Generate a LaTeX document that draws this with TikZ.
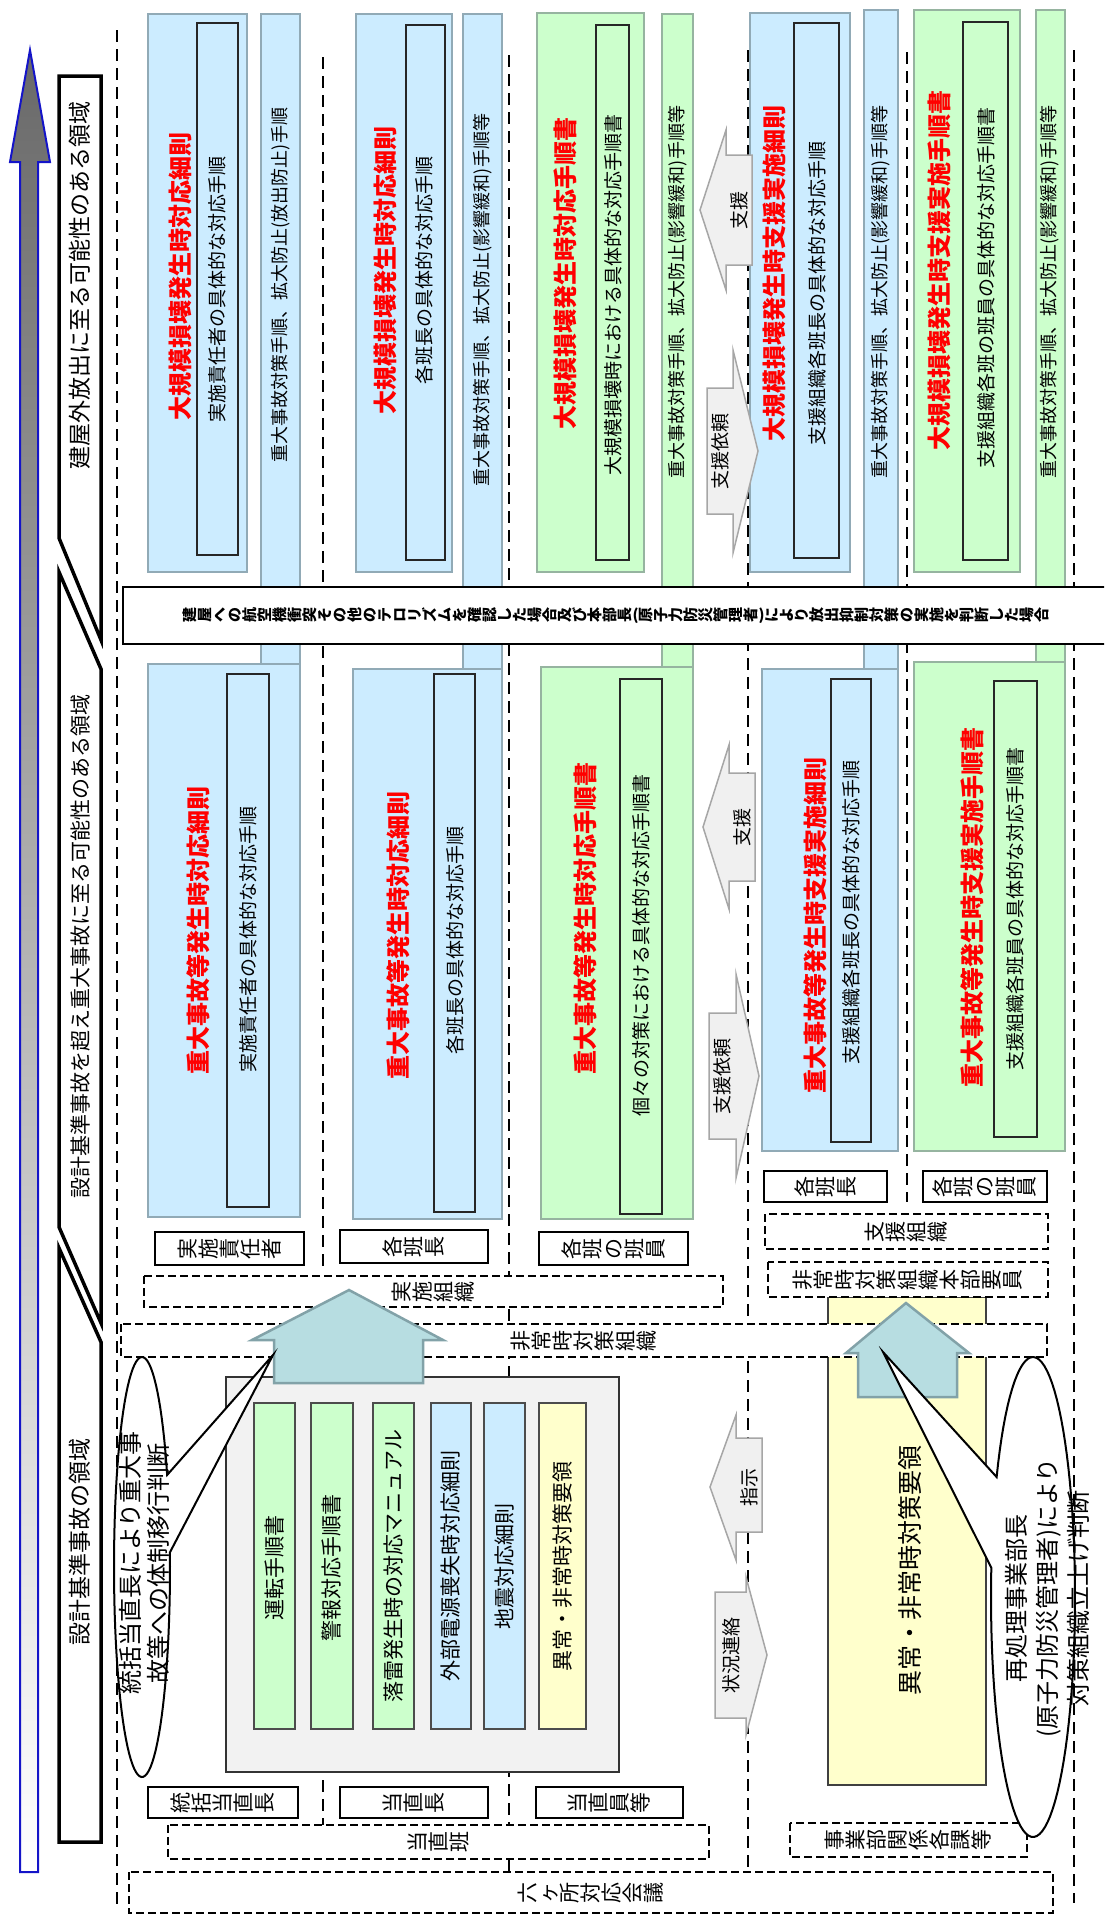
\documentclass[tikz,border=0pt]{standalone}
\usepackage{fontspec}
\setmainfont{Noto Sans CJK JP}
\usepackage{graphicx}
\usepackage{tikz}

\definecolor{sbblue}{RGB}{204,236,255}
\definecolor{sbgreen}{RGB}{204,255,204}
\definecolor{sbyellow}{RGB}{255,255,204}
\definecolor{sbedge}{RGB}{145,170,182}
\definecolor{sbedgeg}{RGB}{150,180,160}
\definecolor{sbteal}{RGB}{183,221,225}
\definecolor{sbtealedge}{RGB}{130,162,168}
\definecolor{sbgray}{RGB}{242,242,242}
\definecolor{sbarrow}{RGB}{105,105,105}
\definecolor{sbarrowedge}{RGB}{20,20,200}

\newcommand{\fsz}[1]{\fontsize{#1bp}{#1bp}\selectfont}
% 縦書き（1文字ずつ回転）
\newcommand{\tatechar}[1]{\rotatebox[origin=c]{90}{\hbox to 1em{\hss\vrule height .88em depth .12em width 0pt\relax#1\hss}}}
\makeatletter
\newcommand{\tate}[1]{\@tfor\tate@c:=#1\do{\tatechar{\tate@c}}}
\makeatother

\begin{document}
\begin{tikzpicture}[x=1bp,y=-1bp,
    bluebox/.style={fill=sbblue,draw=sbedge,line width=2.5bp},
    greenbox/.style={fill=sbgreen,draw=sbedgeg,line width=2.5bp},
    innerbox/.style={draw=black!85,line width=1.2bp},
    title/.style={rotate=90,text=red,font=\fsz{24}\bfseries,inner sep=0},
    body/.style={rotate=90,font=\fsz{19},inner sep=0},
    bartext/.style={rotate=90,font=\fsz{18},inner sep=0},
    regiontext/.style={rotate=90,font=\fsz{23},inner sep=0},
    region/.style={draw,fill=white,line width=3.5bp},
    sep/.style={dash pattern=on 12bp off 7bp,line width=2bp},
    labelbox/.style={draw,fill=white,line width=2bp},
    groupbox/.style={draw,fill=white,dash pattern=on 8bp off 4bp,line width=2bp},
    tatetext/.style={font=\fsz{21},inner sep=0},
    smallarrow/.style={draw=black!35,fill=black!6,line width=1.5bp},
    arrowtext/.style={rotate=90,font=\fsz{19},inner sep=0},
    bigarrow/.style={draw=sbtealedge,fill=sbteal,line width=2.5bp},
    procbar/.style={draw=black!70,line width=1.5bp},
    callout/.style={draw,fill=white,line width=2bp}]

    \useasboundingbox (0,0) rectangle (1104,1917);
    \clip (0,0) rectangle (1104,1917);

    % 事象進展の矢印
    \shadedraw[top color=sbarrow,bottom color=white,draw=sbarrowedge,line width=2bp]
        (20,1872) -- (20,162) -- (10,162) -- (30,50) -- (50,162) -- (38,162) -- (38,1872) -- cycle;

    % 領域
    \draw[region] (59,76) -- (101,76) -- (101,640) -- (59,538) -- cycle;
    \node[regiontext] (reg3) at (80,285) {建屋外放出に至る可能性のある領域};
    \draw[region] (59,572) -- (101,669) -- (101,1323) -- (59,1227) -- cycle;
    \node[regiontext,font=\fsz{21}] (reg2) at (80,946) {設計基準事故を超え重大事故に至る可能性のある領域};
    \draw[region] (59,1248) -- (101,1342) -- (101,1842) -- (59,1842) -- cycle;
    \node[regiontext] (reg1) at (80,1542) {設計基準事故の領域};

    % 区切り線
    \draw[sep] (117,30) -- (117,1907);
    \draw[sep] (323,57) -- (323,1268);
    \draw[sep] (323,1780) -- (323,1825);
    \draw[sep] (509,55) -- (509,1871);
    \draw[sep] (748,50) -- (748,1868);
    \draw[sep] (907,52) -- (907,1202);
    \draw[sep] (1074,50) -- (1074,1903);

    % 重大事故対策手順（縦長の帯）
    \draw[bluebox] (261,14) rectangle (300,700);
    \draw[bluebox] (463,14) rectangle (502,700);
    \draw[greenbox] (662,14) rectangle (693,700);
    \draw[bluebox] (864,10) rectangle (898,700);
    \draw[greenbox] (1036,10) rectangle (1065,700);
    \node[bartext] (bar1) at (281,285) {重大事故対策手順、拡大防止(放出防止)手順};
    \node[bartext] (bar2) at (483,300) {重大事故対策手順、拡大防止(影響緩和)手順等};
    \node[bartext] (bar3) at (678,292) {重大事故対策手順、拡大防止(影響緩和)手順等};
    \node[bartext] (bar4) at (881,292) {重大事故対策手順、拡大防止(影響緩和)手順等};
    \node[bartext] (bar5) at (1050,292) {重大事故対策手順、拡大防止(影響緩和)手順等};

    % 大規模損壊
    \draw[bluebox] (148,14) rectangle (247,572);
    \draw[innerbox] (197,23) rectangle (238,555);
    \node[title] (lsA) at (180,276) {大規模損壊発生時対応細則};
    \node[body] (lsAt) at (217,289) {実施責任者の具体的な対応手順};
    \draw[bluebox] (356,14) rectangle (452,572);
    \draw[innerbox] (406,25) rectangle (445,560);
    \node[title] (lsB) at (385,270) {大規模損壊発生時対応細則};
    \node[body] (lsBt) at (424,270) {各班長の具体的な対応手順};
    \draw[greenbox] (537,13) rectangle (644,572);
    \draw[innerbox] (596,25) rectangle (629,560);
    \node[title] (lsC) at (565,273) {大規模損壊発生時対応手順書};
    \node[body] (lsCt) at (613,295) {大規模損壊時における具体的な対応手順書};
    \draw[bluebox] (750,13) rectangle (850,572);
    \draw[innerbox] (794,23) rectangle (839,558);
    \node[title] (lsD) at (774,273) {大規模損壊発生時支援実施細則};
    \node[body] (lsDt) at (817,293) {支援組織各班長の具体的な対応手順};
    \draw[greenbox] (914,10) rectangle (1020,572);
    \draw[innerbox] (963,22) rectangle (1008,560);
    \node[title] (lsE) at (939,270) {大規模損壊発生時支援実施手順書};
    \node[body] (lsEt) at (986,288) {支援組織各班の班員の具体的な対応手順書};

    % 重大事故等
    \draw[bluebox] (148,664) rectangle (300,1217);
    \draw[innerbox] (227,674) rectangle (269,1207);
    \node[title] (saA) at (198,930) {重大事故等発生時対応細則};
    \node[body] (saAt) at (248,939) {実施責任者の具体的な対応手順};
    \draw[bluebox] (353,669) rectangle (502,1219);
    \draw[innerbox] (434,674) rectangle (475,1212);
    \node[title] (saB) at (398,935) {重大事故等発生時対応細則};
    \node[body] (saBt) at (455,940) {各班長の具体的な対応手順};
    \draw[greenbox] (541,667) rectangle (693,1219);
    \draw[innerbox] (620,679) rectangle (662,1214);
    \node[title] (saC) at (585,918) {重大事故等発生時対応手順書};
    \node[body] (saCt) at (641,945) {個々の対策における具体的な対応手順書};
    \draw[bluebox] (762,669) rectangle (898,1151);
    \draw[innerbox] (831,679) rectangle (871,1142);
    \node[title] (saD) at (815,925) {重大事故等発生時支援実施細則};
    \node[body] (saDt) at (851,912) {支援組織各班長の具体的な対応手順};
    \draw[greenbox] (914,662) rectangle (1065,1151);
    \draw[innerbox] (994,681) rectangle (1037,1137);
    \node[title] (saE) at (972,907) {重大事故等発生時支援実施手順書};
    \node[body] (saEt) at (1015,909) {支援組織各班員の具体的な対応手順書};

    % 移行条件
    \draw[line width=2bp,fill=white] (123,587) rectangle (1112,644);
    \node[font=\fsz{15}\bfseries,inner sep=0] (cond) at (616,615.5)
        {\tate{建屋への航空機衝突その他のテロリズムを確認した場合及び本部長}(\tate{原子力防災管理者})\tate{により放出抑制対策の実施を判断した場合}};

    % 支援・支援依頼
    \draw[smallarrow] (700,210) -- (726,130) -- (726,155) -- (752,155) -- (752,265) -- (726,265) -- (726,290) -- cycle;
    \node[arrowtext] (shienU) at (739,210) {支援};
    \draw[smallarrow] (758,451) -- (733,350) -- (733,388) -- (707,388) -- (707,514) -- (733,514) -- (733,553) -- cycle;
    \node[arrowtext] (iraiU) at (720,451) {支援依頼};
    \draw[smallarrow] (703,827) -- (729,745) -- (729,773) -- (755,773) -- (755,881) -- (729,881) -- (729,909) -- cycle;
    \node[arrowtext] (shienL) at (742,827) {支援};
    \draw[smallarrow] (759,1076) -- (736,974) -- (736,1013) -- (709,1013) -- (709,1139) -- (736,1139) -- (736,1178) -- cycle;
    \node[arrowtext] (iraiL) at (722,1076) {支援依頼};
    \draw[smallarrow] (710,1487) -- (736,1415) -- (736,1438) -- (762,1438) -- (762,1532) -- (736,1532) -- (736,1560) -- cycle;
    \node[arrowtext] (shiji) at (749,1487) {指示};
    \draw[smallarrow] (767,1655) -- (746,1577) -- (746,1592) -- (715,1592) -- (715,1718) -- (746,1718) -- (746,1735) -- cycle;
    \node[arrowtext] (renraku) at (731,1655) {状況連絡};

    % 要員
    \draw[labelbox] (155,1232) rectangle (304,1265);
    \node[tatetext] (lbl1) at (229.5,1248.5) {\tate{実施責任者}};
    \draw[labelbox] (340,1230) rectangle (488,1263);
    \node[tatetext] (lbl2) at (414,1246.5) {\tate{各班長}};
    \draw[labelbox] (539,1232) rectangle (688,1265);
    \node[tatetext] (lbl3) at (613.5,1248.5) {\tate{各班の班員}};
    \draw[labelbox] (764,1171) rectangle (887,1202);
    \node[tatetext] (lbl4) at (825.5,1186.5) {\tate{各班長}};
    \draw[labelbox] (923,1171) rectangle (1047,1202);
    \node[tatetext] (lbl5) at (985,1186.5) {\tate{各班の班員}};
    \draw[labelbox] (148,1787) rectangle (298,1818);
    \node[tatetext] (lbl6) at (223,1802.5) {\tate{統括当直長}};
    \draw[labelbox] (340,1787) rectangle (488,1818);
    \node[tatetext] (lbl7) at (414,1802.5) {\tate{当直長}};
    \draw[labelbox] (536,1787) rectangle (683,1818);
    \node[tatetext] (lbl8) at (609.5,1802.5) {\tate{当直員等}};

    % 異常・非常時対策要領
    \draw[fill=sbyellow,draw=black!75,line width=2bp] (828,1297) rectangle (986,1785);
    \node[rotate=90,font=\fsz{25},inner sep=0] (youryou) at (910,1570) {異常・非常時対策要領};

    % 組織
    \draw[groupbox] (144,1276) rectangle (723,1307);
    \node[tatetext] (grp1) at (433.5,1291.5) {\tate{実施組織}};
    \draw[groupbox] (121,1324) rectangle (1047,1357);
    \node[tatetext] (grp2) at (584,1340.5) {\tate{非常時対策組織}};
    \draw[groupbox] (765,1214) rectangle (1048,1249);
    \node[tatetext] (grp3) at (906.5,1231.5) {\tate{支援組織}};
    \draw[groupbox] (768,1262) rectangle (1048,1297);
    \node[tatetext] (grp4) at (908,1279.5) {\tate{非常時対策組織本部要員}};
    \draw[groupbox] (168,1825) rectangle (709,1859);
    \node[tatetext] (grp5) at (438.5,1842) {\tate{当直班}};
    \draw[groupbox] (790,1823) rectangle (1027,1857);
    \node[tatetext] (grp6) at (908.5,1840) {\tate{事業部関係各課等}};
    \draw[groupbox] (129,1872) rectangle (1053,1913);
    \node[tatetext] (grp7) at (591,1892.5) {\tate{六ヶ所対応会議}};

    % 設計基準事故の手順書類
    \draw[fill=sbgray,draw=black!80,line width=2.5bp] (226,1377) rectangle (619,1772);
    \draw[procbar,fill=sbgreen] (254,1403) rectangle (295,1729);
    \node[rotate=90,font=\fsz{21},inner sep=0] (proc1) at (274.5,1568) {運転手順書};
    \draw[procbar,fill=sbgreen] (311,1403) rectangle (353,1729);
    \node[rotate=90,font=\fsz{21},inner sep=0] (proc2) at (332,1568) {警報対応手順書};
    \draw[procbar,fill=sbgreen] (373,1403) rectangle (414,1729);
    \node[rotate=90,font=\fsz{21},inner sep=0] (proc3) at (393.5,1566) {落雷発生時の対応マニュアル};
    \draw[procbar,fill=sbblue] (431,1403) rectangle (471,1729);
    \node[rotate=90,font=\fsz{21},inner sep=0] (proc4) at (451,1566) {外部電源喪失時対応細則};
    \draw[procbar,fill=sbblue] (484,1403) rectangle (525,1729);
    \node[rotate=90,font=\fsz{21},inner sep=0] (proc5) at (504.5,1566) {地震対応細則};
    \draw[procbar,fill=sbyellow] (539,1403) rectangle (586,1729);
    \node[rotate=90,font=\fsz{21},inner sep=0] (proc6) at (562.5,1566) {異常・非常時対策要領};

    % 体制移行
    \draw[bigarrow] (349,1290) -- (443,1340) -- (423,1340) -- (423,1383) -- (274,1383) -- (274,1340) -- (252,1340) -- cycle;
    \draw[bigarrow] (906,1303) -- (969,1353) -- (957,1353) -- (957,1397) -- (858,1397) -- (858,1353) -- (846,1353) -- cycle;

    % 判断の吹き出し
    \draw[callout] (273,1355) -- plot[domain=-4:334,samples=90] ({142+28*cos(\x)},{1567+210*sin(\x)}) -- cycle;
    \node[rotate=90,font=\fontsize{24bp}{28bp}\selectfont,align=center,inner sep=0] (judge1) at (144,1563)
        {統括当直長により重大事\\故等への体制移行判断};
    \draw[callout] (883,1352) -- plot[domain=210:547,samples=90] ({1033+42*cos(\x)},{1597+240*sin(\x)}) -- cycle;
    \node[rotate=90,font=\fontsize{24bp}{31bp}\selectfont,align=center,inner sep=0] (judge2) at (1047,1598)
        {再処理事業部長\\(原子力防災管理者)により\\対策組織立上げ判断};
\end{tikzpicture}
\end{document}
